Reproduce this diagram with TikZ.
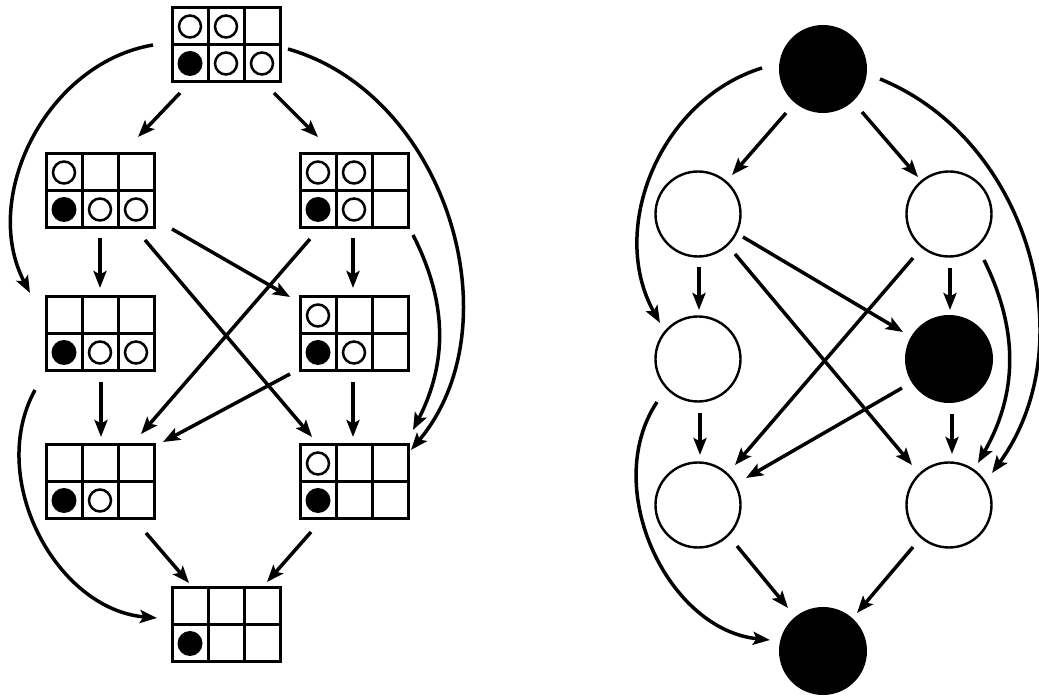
\documentclass[tikz,border=0pt]{standalone}
\usetikzlibrary{arrows.meta,calc}
\newcommand\cellmark[4]{\ifcase#4\relax\or\draw[openmark] ($(#1)+(#2,#3)$) circle[radius=11pt];\or\fill ($(#1)+(#2,#3)$) circle[radius=12.5pt];\fi}
\newcommand\mygrid[8]{%
  \node[gridbox] (#1) at (#2) {};
  \draw[gridline] ($(#1.north)+(-18,0)$) -- ($(#1.south)+(-18,0)$);
  \draw[gridline] ($(#1.north)+(18,0)$) -- ($(#1.south)+(18,0)$);
  \draw[gridline] (#1.west) -- (#1.east);
  \cellmark{#1}{-36}{18.5}{#3}\cellmark{#1}{0}{18.5}{#4}\cellmark{#1}{36}{18.5}{#5}%
  \cellmark{#1}{-36}{-18.5}{#6}\cellmark{#1}{0}{-18.5}{#7}\cellmark{#1}{36}{-18.5}{#8}}
\begin{document}
\begin{tikzpicture}[x=1pt,y=1pt,
  gridbox/.style={draw,line width=3pt,minimum width=108pt,minimum height=74pt,inner sep=0pt,outer sep=0pt},
  gridline/.style={line width=3pt},
  openmark/.style={line width=2.5pt},
  stateopen/.style={circle,draw,line width=2.4pt,minimum size=85pt,inner sep=0pt,outer sep=0pt},
  statefull/.style={circle,fill=black,minimum size=88pt,inner sep=0pt,outer sep=0pt},
  conn/.style={line width=3.5pt,-{Stealth[length=17pt,width=13pt,inset=3.5pt]}},
]
\useasboundingbox (0,0) rectangle (1039,696);
% left diagram: grids
\mygrid{gT}{226,651}{1}{1}{0}{2}{1}{1}
\mygrid{gLa}{100,505}{1}{0}{0}{2}{1}{1}
\mygrid{gRa}{354,505}{1}{1}{0}{2}{1}{0}
\mygrid{gLb}{100,362}{0}{0}{0}{2}{1}{1}
\mygrid{gRb}{354,362}{1}{0}{0}{2}{1}{0}
\mygrid{gLc}{100,214}{0}{0}{0}{2}{1}{0}
\mygrid{gRc}{354,214}{1}{0}{0}{2}{0}{0}
\mygrid{gB}{226,71}{0}{0}{0}{2}{0}{0}
% left connectors
\draw[conn] ($(gT)+(-46,-48)$) -- ($(gLa)+(38,54)$);
\draw[conn] ($(gT)+(48,-48)$) -- ($(gRa)+(-36,54)$);
\draw[conn] ($(gLa)+(0,-47)$) -- ($(gLb)+(0,46)$);
\draw[conn] ($(gRa)+(-1,-47)$) -- ($(gRb)+(-1,46)$);
\draw[conn] ($(gLb)+(1,-48)$) -- ($(gLc)+(1,45)$);
\draw[conn] ($(gRb)+(-1,-48)$) -- ($(gRc)+(-1,45)$);
\draw[conn] ($(gLa)+(72,-38)$) -- ($(gRb)+(-64,37)$);
\draw[conn] ($(gLa)+(45,-49)$) -- ($(gRc)+(-42,45)$);
\draw[conn] ($(gRa)+(-44,-48)$) -- ($(gLc)+(41,48)$);
\draw[conn] ($(gRb)+(-64,-40)$) -- ($(gLc)+(63,40)$);
\draw[conn] ($(gLc)+(46,-51)$) -- ($(gB)+(-37,42)$);
\draw[conn] ($(gRc)+(-43,-50)$) -- ($(gB)+(41,43)$);
\draw[conn] ($(gT)+(-73,0)$) to[bend right=54] ($(gLb)+(-70,41)$);
\draw[conn] ($(gT)+(62,-4)$) to[bend left=57] ($(gRc)+(57,32)$);
\draw[conn] ($(gRa)+(59,-44)$) to[bend left=27] ($(gRc)+(59,52)$);
\draw[conn] ($(gLb)+(-65,-56)$) to[bend right=57] ($(gB)+(-69,7)$);
% right diagram: states
\node[statefull] (cT) at (823,627) {};
\node[stateopen] (cLa) at (698,482) {};
\node[stateopen] (cRa) at (949,482) {};
\node[stateopen] (cLb) at (698,337) {};
\node[statefull] (cRb) at (949,337) {};
\node[stateopen] (cLc) at (698,191) {};
\node[stateopen] (cRc) at (949,191) {};
\node[statefull] (cB) at (823,45) {};
% right connectors
\draw[conn] ($(cT)+(-37,-44)$) -- ($(cLa)+(34,39)$);
\draw[conn] ($(cT)+(39,-43)$) -- ($(cRa)+(-31,37)$);
\draw[conn] ($(cLa)+(1,-53)$) -- ($(cLb)+(1,49)$);
\draw[conn] ($(cRa)+(1,-54)$) -- ($(cRb)+(1,49)$);
\draw[conn] ($(cLb)+(2,-54)$) -- ($(cLc)+(2,50)$);
\draw[conn] ($(cRb)+(3,-55)$) -- ($(cRc)+(3,51)$);
\draw[conn] ($(cLa)+(45,-23)$) -- ($(cRb)+(-46,27)$);
\draw[conn] ($(cLa)+(37,-40)$) -- ($(cRc)+(-37,40)$);
\draw[conn] ($(cRa)+(-36,-44)$) -- ($(cLc)+(37,40)$);
\draw[conn] ($(cRb)+(-47,-29)$) -- ($(cLc)+(48,27)$);
\draw[conn] ($(cLc)+(39,-41)$) -- ($(cB)+(-35,43)$);
\draw[conn] ($(cRc)+(-36,-42)$) -- ($(cB)+(34,38)$);
\draw[conn] ($(cT)+(-61,1)$) to[bend right=51] ($(cLb)+(-38,36)$);
\draw[conn] ($(cT)+(57,-10)$) to[bend left=52] ($(cRc)+(43,32)$);
\draw[conn] ($(cRa)+(35,-46)$) to[bend left=28] ($(cRc)+(29,42)$);
\draw[conn] ($(cLb)+(-41,-43)$) to[bend right=59] ($(cB)+(-53,11)$);
\end{tikzpicture}
\end{document}
